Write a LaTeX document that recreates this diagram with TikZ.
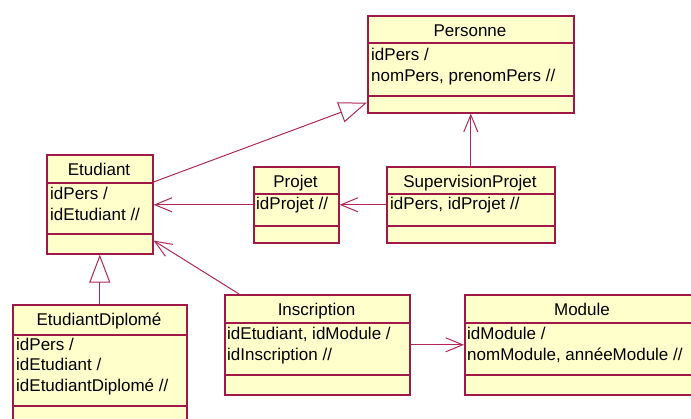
\documentclass[tikz,border=0pt]{standalone}
\usepackage{fontspec}
\setmainfont{Liberation Sans}
\usetikzlibrary{arrows.meta,calc}

\definecolor{umlborder}{RGB}{160,24,72}
\definecolor{umlfill}{RGB}{255,255,204}
\definecolor{umlline}{RGB}{176,40,88}

\tikzset{
 classbox/.style={draw=umlborder, fill=umlfill, line width=1.6pt, inner sep=0pt, anchor=north west, rectangle},
 seprule/.style={draw=umlborder, line width=1.2pt},
 ctitle/.style={font=\fontsize{17}{20}\selectfont, anchor=base, inner sep=0pt},
 cattr/.style={font=\fontsize{17}{20}\selectfont, anchor=base west, inner sep=0pt},
 assoc/.style={draw=umlline, line width=1pt, -{Straight Barb[length=17pt,width=14pt]}},
 gen/.style={draw=umlline, line width=1pt, -{Triangle[open,length=28pt,width=21pt,fill=white]}},
}

% name, x1, y1, x2, y2, sep1, sep2, title
\newcommand\umlclass[8]{%
 \node[classbox, minimum width={(#4-#2)*1pt}, minimum height={(#5-#3)*1pt}] (#1) at (#2,#3) {};
 \draw[seprule] (#2,#6) -- (#4,#6);
 \draw[seprule] (#2,#7) -- (#4,#7);
 \node[ctitle] (#1T) at ({(#2+#4)/2},{#3+22}) {#8};
}

\begin{document}
\begin{tikzpicture}[x=1pt,y=-1pt]
\useasboundingbox (0,0) rectangle (691,419);

\umlclass{pers}{367}{15}{573}{112}{43}{96}{Personne}
\node[cattr] (persA) at (371,61) {idPers /};
\node[cattr] (persB) at (371,82) {nomPers, prenomPers //};

\umlclass{etu}{46}{154}{152}{253}{183}{234}{Etudiant}
\node[cattr] (etuA) at (50,200) {idPers /};
\node[cattr] (etuB) at (50,221) {idEtudiant //};

\umlclass{proj}{253}{166}{338}{242}{194}{226}{Projet}
\node[cattr] (projA) at (256,210) {idProjet //};

\umlclass{sup}{386}{166}{554}{242}{194}{226}{SupervisionProjet}
\node[cattr] (supA) at (390,210) {idPers, idProjet //};

\umlclass{dip}{12}{304}{186}{440}{335}{406}{EtudiantDiplomé}
\node[cattr] (dipA) at (16,351) {idPers /};
\node[cattr] (dipB) at (16,371) {idEtudiant /};
\node[cattr] (dipC) at (16,392) {idEtudiantDiplomé //};

\umlclass{insc}{224}{294}{409}{394}{323}{375}{Inscription}
\node[cattr] (inscA) at (227,340) {idEtudiant, idModule /};
\node[cattr] (inscB) at (227,361) {idInscription //};

\umlclass{mod}{464}{294}{700}{394}{323}{375}{Module}
\node[cattr] (modA) at (467,340) {idModule /};
\node[cattr] (modB) at (467,361) {nomModule, annéeModule //};

% connectors
\draw[gen] ($(etu.north east)+(0,28)$) -- ($(pers.south west)+(0,-11)$);
\draw[gen] (dip.north) -- (dip.north |- etu.south);
\draw[assoc] (proj.west) -- (etu.east |- proj.west);
\draw[assoc] (sup.west) -- (proj.east);
\draw[assoc] (sup.north) -- (sup.north |- pers.south);
\draw[assoc] (insc.east) -- (mod.west);
\draw[assoc] ($(insc.north west)+(15,0)$) -- ($(etu.south east)+(0,-14)$);
\end{tikzpicture}
\end{document}
